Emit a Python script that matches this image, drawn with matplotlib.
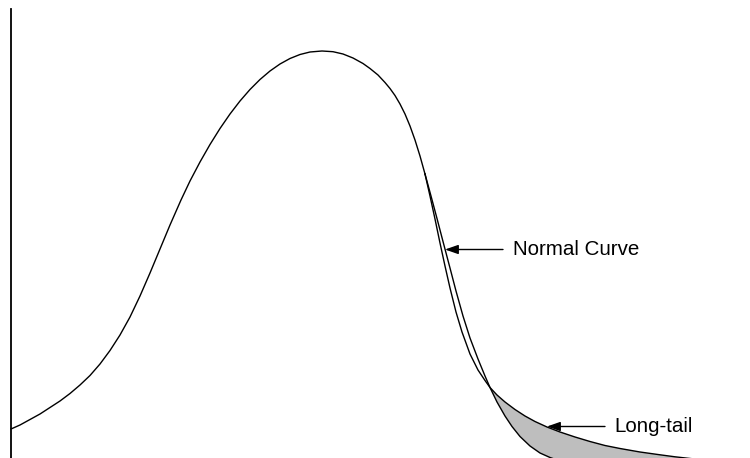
import matplotlib.pyplot as plt
import numpy as np

# values (x position, curve height above the baseline)
# shared part of the two curves, left side up to where they split
shared_x = [11, 20, 30, 40, 50, 60, 70, 80, 90, 100, 110, 120, 130, 140, 150, 160,
            170, 181, 190, 200, 210, 220, 230, 240, 250, 260, 270, 280, 290, 300,
            310, 322, 333, 343, 353, 363, 370, 378, 385, 390, 395, 400, 405, 410,
            415, 420, 425]
shared_h = [29, 33, 38.5, 44, 50.5, 57, 64.5, 73, 82.5, 94, 107.5, 123, 141, 162,
            185, 209, 233, 258, 277, 296, 313.5, 329.5, 344, 357, 368.5, 378.5,
            387, 394, 399.5, 403.5, 406, 407, 406.3, 404, 400, 394.5, 389.5, 383,
            375.5, 369.5, 362.5, 354, 344, 332, 318, 302, 284]

# normal curve after the split
normal_x = [425, 431, 437, 443, 450, 456, 463, 470, 478, 485, 490, 497, 505, 512,
            520, 530, 540, 550, 560]
normal_h = [284, 262, 239.5, 216.5, 190, 167, 142, 120, 99, 82, 70.5, 56, 42, 31.5,
            21.5, 12, 5, 0.5, -3]

# long-tail curve after the split
long_x = [425, 430, 435, 440, 445, 450, 456, 462, 470, 478, 485, 490, 497, 505,
          515, 525, 535, 547, 560, 575, 590, 605, 620, 640, 660, 675, 690, 710]
long_h = [284, 262, 239, 215, 192, 170, 146, 126, 104, 88, 77.5, 70.5, 63, 56,
          48.5, 42, 36.5, 31, 26, 21, 16.5, 12.5, 9.5, 6, 3.2, 1.2, -0.5, -2.5]

labels = ["Normal Curve", "Long-tail"]

fig = plt.figure(figsize=(7.5, 4.58), dpi=100)
ax = fig.add_axes([0, 0, 1, 1])
ax.set_xlim(0, 750)
ax.set_ylim(0, 458)

ax.plot(shared_x, shared_h, color="black", lw=1.0, solid_joinstyle="round")
ax.plot(normal_x, normal_h, color="black", lw=1.0, solid_joinstyle="round")
ax.plot(long_x, long_h, color="black", lw=1.0, solid_joinstyle="round")

# grey area where the long tail sits above the normal curve
lx = np.array(long_x)
nx = np.array(normal_x)
poly_x = list(lx[lx >= 490]) + list(nx[nx >= 490][::-1])
poly_h = list(np.array(long_h)[lx >= 490]) + list(np.array(normal_h)[nx >= 490][::-1])
ax.fill(poly_x, poly_h, color="#bebebe", lw=0, zorder=1)

# only the vertical axis line is shown
for s in ["top", "right", "bottom"]:
    ax.spines[s].set_visible(False)
ax.spines["left"].set_position(("data", 11))
ax.spines["left"].set_bounds(0, 449)
ax.spines["left"].set_linewidth(1.3)
ax.set_xticks([])
ax.set_yticks([])

arrow = dict(arrowstyle="-|>,head_length=0.8,head_width=0.28", color="black", lw=1.0,
             shrinkA=0, shrinkB=0, mutation_scale=10)
fnt = dict(fontsize=14.8, family=["Liberation Sans", "DejaVu Sans"], ha="left", va="center")

ax.annotate("", xy=(445, 208.5), xytext=(503, 208.5), arrowprops=arrow)
ax.text(513, 208.5, labels[0], **fnt)
ax.annotate("", xy=(547, 31.5), xytext=(605, 31.5), arrowprops=arrow)
ax.text(614, 31.5, labels[1], **fnt)

fig.savefig("out.png", dpi=100)
